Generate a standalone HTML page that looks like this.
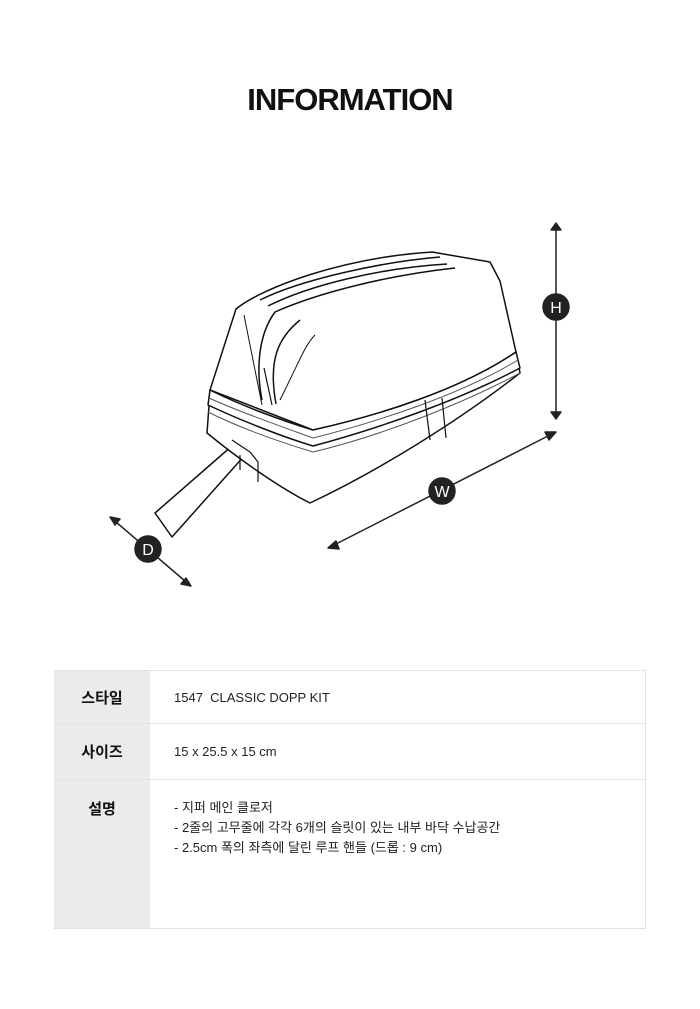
<!DOCTYPE html>
<html><head><meta charset="utf-8"><style>
body{margin:0;width:700px;height:1009px;background:#fff;font-family:"Liberation Sans","Noto Sans CJK KR",sans-serif;position:relative;overflow:hidden}
h1{position:absolute;top:82px;left:0;width:700px;text-align:center;margin:0;font-size:31px;font-weight:bold;color:#111;letter-spacing:-1px}
table{position:absolute;left:54px;top:670px;width:592px;border-collapse:collapse}
td{border-top:1px solid #e3e3e3;border-bottom:1px solid #e3e3e3;font-size:13px;color:#222}
td.l{width:94px;background:#ebebeb;text-align:center;font-weight:bold;font-size:15px;color:#111}
td.r{padding-left:24px;border-right:1px solid #e3e3e3}
</style></head><body>
<h1>INFORMATION</h1>
<svg width="700" height="1009" style="position:absolute;left:0;top:0" fill="none" stroke="#111" stroke-width="1.5" stroke-linejoin="round">
<path d="M233,445 L155,513 L172,537 L245,455 Z" fill="#fff"/>
<path d="M210,392 L207,433 C240,460 280,488 310,503 C380,470 460,420 520,373 L516,352 Z" fill="#fff"/>
<path d="M232,440 L250,452 L258,462 L258,482 M240,455 L240,470" stroke-width="1.2"/>
<path d="M210,390 L236,309 C262,288 340,258 432,252 L490,262 L500,281 L516,352 C460,390 380,415 313,430 Z" fill="#fff"/>
<path d="M210,390 C240,405 280,420 313,430 C380,415 460,390 516,352 L520,368 C460,400 380,428 313,446 C280,436 240,420 208,405 Z" fill="#fff"/>
<path d="M209,398 C240,412 280,426 313,438 C380,421 460,395 518,360 M208,412 C240,428 280,442 313,452 C380,436 460,405 520,373" stroke-width="1" stroke="#555"/>
<path d="M260,300 C300,280 380,262 440,257 M268,306 C310,285 380,268 447,264 M262,400 C256,370 258,335 275,312 C320,292 390,275 455,268 M276,404 C268,360 278,338 300,320"/>
<path d="M244,315 L262,405 M315,335 C305,345 300,360 280,400" stroke-width="1"/>
<path d="M425,400 L430,440 M442,398 L446,438 M264,368 L272,405" stroke-width="1.2"/>
<g fill="#222" stroke="#222">
<line x1="556" y1="230" x2="556" y2="412"/><path d="M551,230 L556,223 L561,230Z M551,412 L556,419 L561,412Z"/>
<line x1="548" y1="436" x2="334" y2="545"/><path d="M556,432 L545,432 L549,440Z M328,548 L336,541 L339,549Z"/>
<line x1="116" y1="522" x2="185" y2="581"/><path d="M110,517 L120,519 L115,525Z M191,586 L181,584 L186,578Z"/>
<circle cx="556" cy="307" r="13"/><circle cx="442" cy="491" r="13"/><circle cx="148" cy="549" r="13"/>
</g>
<g fill="#fff" stroke="none" font-size="16" text-anchor="middle" font-family="Liberation Sans,sans-serif">
<text x="556" y="313">H</text><text x="442" y="497">W</text><text x="148" y="555">D</text></g>
</svg>
<table>
<tr style="height:53px"><td class="l">스타일</td><td class="r">1547&nbsp; CLASSIC DOPP KIT</td></tr>
<tr style="height:56px"><td class="l">사이즈</td><td class="r">15 x 25.5 x 15 cm</td></tr>
<tr style="height:149px"><td class="l" style="vertical-align:top;padding-top:18px">설명</td><td class="r" style="vertical-align:top;padding-top:18px;line-height:20px">- 지퍼 메인 클로저<br>- 2줄의 고무줄에 각각 6개의 슬릿이 있는 내부 바닥 수납공간<br>- 2.5cm 폭의 좌측에 달린 루프 핸들 (드롭 : 9 cm)</td></tr>
</table>
</body></html>
